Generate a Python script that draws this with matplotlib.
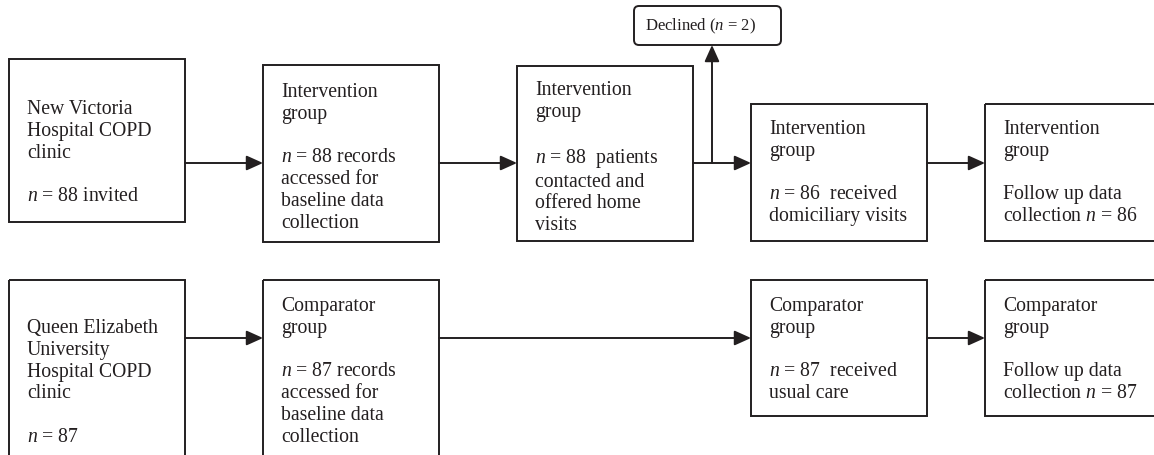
import matplotlib.pyplot as plt
from matplotlib.patches import Rectangle, FancyBboxPatch

plt.rcParams['font.family'] = 'Liberation Serif'
plt.rcParams['mathtext.fontset'] = 'custom'
plt.rcParams['mathtext.rm'] = 'Liberation Serif'
plt.rcParams['mathtext.it'] = 'Liberation Serif:italic'

# numeros do fluxograma
n_intervencao = [88, 88, 88, 86, 86]
n_comparador = [87, 87, 87, 87]
n_recusou = 2

textos_cima = [
    "New Victoria\nHospital COPD\nclinic\n\n$n$ = %d invited" % n_intervencao[0],
    "Intervention\ngroup\n\n$n$ = %d records\naccessed for\nbaseline data\ncollection" % n_intervencao[1],
    "Intervention\ngroup\n\n$n$ = %d  patients\ncontacted and\noffered home\nvisits" % n_intervencao[2],
    "Intervention\ngroup\n\n$n$ = %d  received\ndomiciliary visits" % n_intervencao[3],
    "Intervention\ngroup\n\nFollow up data\ncollection $n$ = %d" % n_intervencao[4],
]
textos_baixo = [
    "Queen Elizabeth\nUniversity\nHospital COPD\nclinic\n\n$n$ = %d" % n_comparador[0],
    "Comparator\ngroup\n\n$n$ = %d records\naccessed for\nbaseline data\ncollection" % n_comparador[1],
    "Comparator\ngroup\n\n$n$ = %d  received\nusual care" % n_comparador[2],
    "Comparator\ngroup\n\nFollow up data\ncollection $n$ = %d" % n_comparador[3],
]
texto_recusou = "Declined ($n$ = %d)" % n_recusou

# caixas: (x0, y0, x1, y1, y do texto) em pixels
caixas_cima = [(9, 60, 185, 223, 100), (263, 66, 439, 243, 83), (517, 67, 693, 242, 81),
               (751, 105, 927, 242, 120), (985, 105, 1160, 242, 120)]
caixas_baixo = [(9, 281, 185, 470, 319), (263, 281, 439, 470, 297),
                (751, 281, 927, 417, 297), (985, 281, 1160, 417, 297)]
y_seta_cima = 164
y_seta_baixo = 339

fig = plt.figure(figsize=(11.54, 4.56), dpi=100)
ax = fig.add_axes([0, 0, 1, 1])
ax.set_xlim(0, 1154)
ax.set_ylim(456, 0)
ax.axis('off')

cor = '#231f20'

def caixa(c, txt):
    x0, y0, x1, y1, yt = c
    ax.add_patch(Rectangle((x0, y0), x1 - x0, y1 - y0, fill=False, ec=cor, lw=1.4))
    ax.text(x0 + 18, yt, txt, fontsize=14.2, va='top', ha='left', color=cor, linespacing=1.2)

def seta(xa, ya, xb, yb):
    ax.annotate('', xy=(xb, yb), xytext=(xa, ya),
                arrowprops=dict(arrowstyle='-|>,head_length=1.0,head_width=0.45',
                                color=cor, lw=1.4, shrinkA=0, shrinkB=0))

for c, t in zip(caixas_cima, textos_cima):
    caixa(c, t)
for c, t in zip(caixas_baixo, textos_baixo):
    caixa(c, t)

# setas de cima
for i in range(4):
    seta(caixas_cima[i][2], y_seta_cima, caixas_cima[i + 1][0], y_seta_cima)
# setas de baixo
seta(caixas_baixo[0][2], y_seta_baixo, caixas_baixo[1][0], y_seta_baixo)
seta(caixas_baixo[1][2], y_seta_baixo, caixas_baixo[2][0], y_seta_baixo)
seta(caixas_baixo[2][2], y_seta_baixo, caixas_baixo[3][0], y_seta_baixo)

# caixa dos que recusaram
ax.add_patch(FancyBboxPatch((634, 7), 147, 39, boxstyle='round,pad=0,rounding_size=5',
                            fill=False, ec=cor, lw=1.4))
ax.text(700, 26.5, texto_recusou, fontsize=12, ha='center', va='center', color=cor)
seta(712, y_seta_cima, 712, 46)

fig.savefig('out.png', dpi=100)
